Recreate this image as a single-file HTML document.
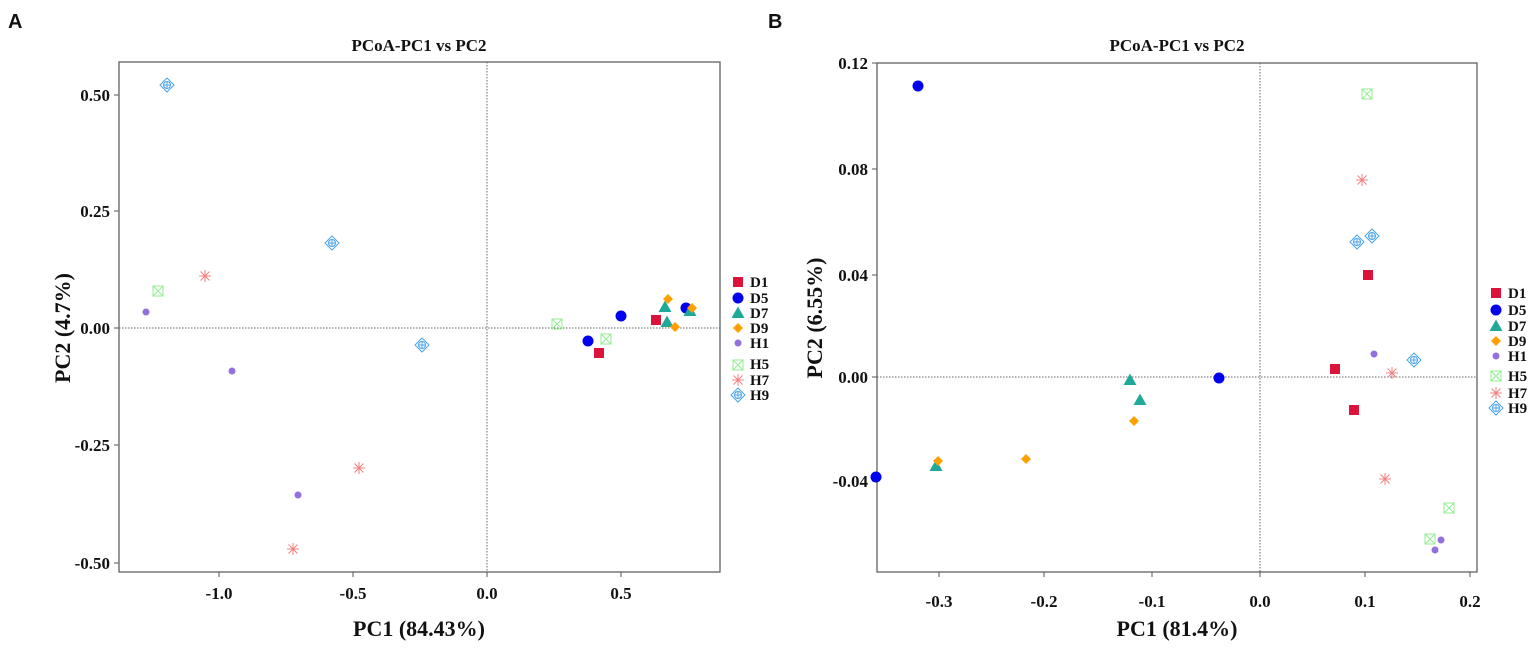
<!DOCTYPE html>
<html><head><meta charset="utf-8"><style>
html,body{margin:0;padding:0;background:#fff}
svg text{font-family:"Liberation Serif",serif;font-weight:bold;fill:#111}
</style></head><body>
<svg width="1535" height="645" viewBox="0 0 1535 645" xmlns="http://www.w3.org/2000/svg">
<defs>
<g id="sq"><rect x="-5" y="-5" width="10" height="10" fill="#dc143c"/></g>
<g id="ci"><circle r="5.5" fill="#0000ee"/></g>
<g id="tr"><polygon points="0,-6.5 6.5,5 -6.5,5" fill="#20a898"/></g>
<g id="di"><polygon points="0,-5 5,0 0,5 -5,0" fill="#ffa000"/></g>
<g id="h1"><circle r="3.5" fill="#9370db"/></g>
<g id="h5" stroke="#90ee90" fill="none" stroke-width="1"><rect x="-5" y="-5" width="10" height="10"/><path d="M-5,-5L5,5M5,-5L-5,5"/></g>
<g id="h7" stroke="#f08080" stroke-width="1"><path d="M-6,0H6M0,-6V6M-4.5,-4.5L4.5,4.5M4.5,-4.5L-4.5,4.5"/></g>
<g id="h9" stroke="#4aa3ea" fill="none" stroke-width="1"><polygon points="0,-7 7,0 0,7 -7,0"/><circle r="3.5"/><path d="M-3.5,0H3.5M0,-3.5V3.5"/></g>
</defs>
<text x="8" y="28" style="font-family:'Liberation Sans',sans-serif;font-size:20px">A</text>
<text x="768" y="28" style="font-family:'Liberation Sans',sans-serif;font-size:20px">B</text>

<!-- Plot A -->
<text x="419" y="51" font-size="17" text-anchor="middle">PCoA-PC1 vs PC2</text>
<rect x="119" y="62" width="601" height="510" fill="none" stroke="#555" stroke-width="1.2"/>
<line x1="487" y1="62" x2="487" y2="572" stroke="#666" stroke-dasharray="1.5,1.5"/>
<line x1="119" y1="328" x2="720" y2="328" stroke="#666" stroke-dasharray="1.5,1.5"/>
<g stroke="#555"><line x1="219" y1="572" x2="219" y2="577"/><line x1="353" y1="572" x2="353" y2="577"/><line x1="487" y1="572" x2="487" y2="577"/><line x1="621" y1="572" x2="621" y2="577"/>
<line x1="114" y1="95" x2="119" y2="95"/><line x1="114" y1="211" x2="119" y2="211"/><line x1="114" y1="328" x2="119" y2="328"/><line x1="114" y1="445" x2="119" y2="445"/><line x1="114" y1="563" x2="119" y2="563"/></g>
<g font-size="17" text-anchor="middle"><text x="219" y="599">-1.0</text><text x="353" y="599">-0.5</text><text x="487" y="599">0.0</text><text x="621" y="599">0.5</text></g>
<g font-size="17" text-anchor="end"><text x="110" y="101">0.50</text><text x="110" y="217">0.25</text><text x="110" y="334">0.00</text><text x="110" y="451">-0.25</text><text x="110" y="569">-0.50</text></g>
<text x="419" y="636" font-size="22" text-anchor="middle">PC1 (84.43%)</text>
<text transform="translate(70,328) rotate(-90)" font-size="22" text-anchor="middle">PC2 (4.7%)</text>
<use href="#h9" x="167" y="85"/><use href="#h9" x="332" y="243"/><use href="#h9" x="422" y="345"/>
<use href="#h7" x="205" y="276"/><use href="#h7" x="359" y="468"/><use href="#h7" x="293" y="549"/>
<use href="#h5" x="158" y="291"/><use href="#h5" x="557" y="324"/><use href="#h5" x="606" y="339"/>
<use href="#h1" x="146" y="312"/><use href="#h1" x="232" y="371"/><use href="#h1" x="298" y="495"/>
<use href="#sq" x="599" y="353"/><use href="#sq" x="656" y="320"/>
<use href="#ci" x="588" y="341"/><use href="#ci" x="621" y="316"/><use href="#ci" x="686" y="308"/>
<use href="#tr" x="665" y="307"/><use href="#tr" x="667" y="322"/><use href="#tr" x="690" y="311"/>
<use href="#di" x="668" y="299"/><use href="#di" x="675" y="327"/><use href="#di" x="692" y="308"/>
<use href="#sq" x="738" y="282"/><use href="#ci" x="738" y="298"/><use href="#tr" x="738" y="313"/><use href="#di" x="738" y="328"/><use href="#h1" x="738" y="343"/><use href="#h5" x="738" y="365"/><use href="#h7" x="738" y="380"/><use href="#h9" x="738" y="395"/>
<g font-size="15"><text x="750" y="287">D1</text><text x="750" y="303">D5</text><text x="750" y="318">D7</text><text x="750" y="333">D9</text><text x="750" y="348">H1</text><text x="750" y="369">H5</text><text x="750" y="385">H7</text><text x="750" y="400">H9</text></g>

<!-- Plot B -->
<text x="1177" y="51" font-size="17" text-anchor="middle">PCoA-PC1 vs PC2</text>
<rect x="877" y="63" width="600" height="509" fill="none" stroke="#555" stroke-width="1.2"/>
<line x1="1260" y1="63" x2="1260" y2="572" stroke="#666" stroke-dasharray="1.5,1.5"/>
<line x1="877" y1="377" x2="1477" y2="377" stroke="#666" stroke-dasharray="1.5,1.5"/>
<g stroke="#555"><line x1="939" y1="572" x2="939" y2="577"/><line x1="1044" y1="572" x2="1044" y2="577"/><line x1="1152" y1="572" x2="1152" y2="577"/><line x1="1260" y1="572" x2="1260" y2="577"/><line x1="1365" y1="572" x2="1365" y2="577"/><line x1="1470" y1="572" x2="1470" y2="577"/>
<line x1="872" y1="63" x2="877" y2="63"/><line x1="872" y1="169" x2="877" y2="169"/><line x1="872" y1="275" x2="877" y2="275"/><line x1="872" y1="377" x2="877" y2="377"/><line x1="872" y1="481" x2="877" y2="481"/></g>
<g font-size="17" text-anchor="middle"><text x="939" y="607">-0.3</text><text x="1044" y="607">-0.2</text><text x="1152" y="607">-0.1</text><text x="1260" y="607">0.0</text><text x="1365" y="607">0.1</text><text x="1470" y="607">0.2</text></g>
<g font-size="17" text-anchor="end"><text x="868" y="69">0.12</text><text x="868" y="175">0.08</text><text x="868" y="281">0.04</text><text x="868" y="383">0.00</text><text x="868" y="487">-0.04</text></g>
<text x="1177" y="636" font-size="22" text-anchor="middle">PC1 (81.4%)</text>
<text transform="translate(822,318) rotate(-90)" font-size="22" text-anchor="middle">PC2 (6.55%)</text>
<use href="#ci" x="918" y="86"/><use href="#ci" x="876" y="477"/><use href="#ci" x="1219" y="378"/>
<use href="#h5" x="1367" y="94"/><use href="#h5" x="1449" y="508"/><use href="#h5" x="1430" y="539"/>
<use href="#h7" x="1362" y="180"/><use href="#h7" x="1392" y="373"/><use href="#h7" x="1385" y="479"/>
<use href="#h9" x="1372" y="236"/><use href="#h9" x="1357" y="242"/><use href="#h9" x="1414" y="360"/>
<use href="#sq" x="1368" y="275"/><use href="#sq" x="1335" y="369"/><use href="#sq" x="1354" y="410"/>
<use href="#h1" x="1374" y="354"/><use href="#h1" x="1441" y="540"/><use href="#h1" x="1435" y="550"/>
<use href="#tr" x="1130" y="380"/><use href="#tr" x="1140" y="400"/><use href="#tr" x="936" y="466"/>
<use href="#di" x="1134" y="421"/><use href="#di" x="1026" y="459"/><use href="#di" x="938" y="461"/>
<use href="#sq" x="1496" y="293"/><use href="#ci" x="1496" y="310"/><use href="#tr" x="1496" y="326"/><use href="#di" x="1496" y="341"/><use href="#h1" x="1496" y="356"/><use href="#h5" x="1496" y="376"/><use href="#h7" x="1496" y="393"/><use href="#h9" x="1496" y="408"/>
<g font-size="15"><text x="1508" y="298">D1</text><text x="1508" y="315">D5</text><text x="1508" y="331">D7</text><text x="1508" y="346">D9</text><text x="1508" y="361">H1</text><text x="1508" y="381">H5</text><text x="1508" y="398">H7</text><text x="1508" y="413">H9</text></g>
</svg>
</body></html>
